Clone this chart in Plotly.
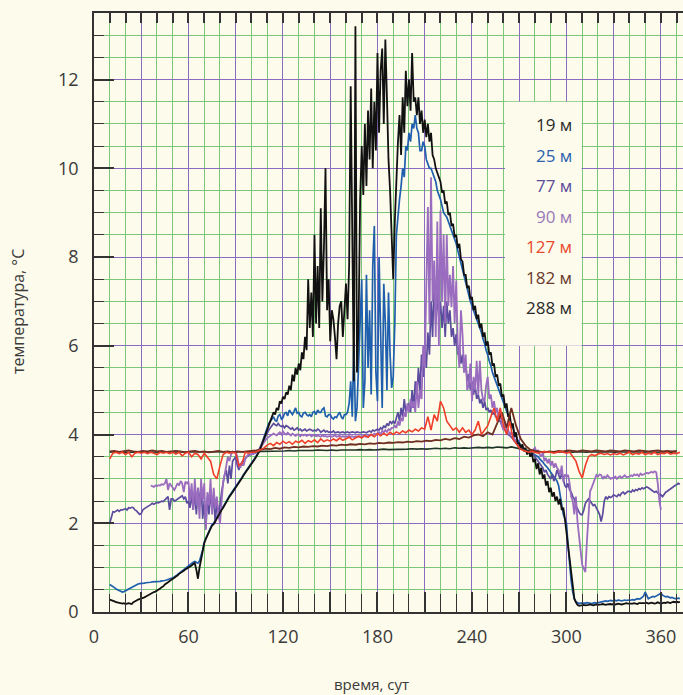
import plotly.graph_objects as go

# ---------------- data ----------------
START_MAIN = 10      # first day of the daily series (19, 25, 77 m)
START_90 = 36        # first day of the 90 m series
START_127 = 10       # 127 m sampled every 2 days
STEP_127 = 2
START_DEEP = 10      # 182 m and 288 m sampled every 3 days
STEP_DEEP = 3

T19 = [
    0.28, 0.27, 0.25, 0.24, 0.22, 0.21, 0.2, 0.2, 0.19, 0.2,
    0.18, 0.19, 0.2, 0.19, 0.18, 0.22, 0.25, 0.26, 0.28, 0.29,
    0.3, 0.31, 0.33, 0.35, 0.37, 0.4, 0.42, 0.43, 0.45, 0.46,
    0.48, 0.5, 0.53, 0.56, 0.58, 0.62, 0.64, 0.67, 0.7, 0.72,
    0.75, 0.77, 0.8, 0.82, 0.86, 0.88, 0.9, 0.93, 0.96, 0.98,
    1.0, 1.03, 1.05, 1.08, 1.1, 0.95, 0.75, 1.0, 1.2, 1.35,
    1.55, 1.65, 1.72, 1.8, 1.88, 1.95, 1.98, 2.05, 2.12, 2.18,
    2.25, 2.3, 2.35, 2.42, 2.48, 2.55, 2.6, 2.65, 2.7, 2.75,
    2.8, 2.86, 2.92, 2.97, 3.02, 3.08, 3.13, 3.17, 3.22, 3.28,
    3.33, 3.38, 3.44, 3.5, 3.55, 3.62, 3.72, 3.82, 3.9, 4.0,
    4.1, 4.2, 4.3, 4.4, 4.5, 4.45, 4.6, 4.55, 4.75, 4.7,
    4.85, 4.8, 4.95, 4.9, 5.1, 5.0, 5.35, 5.2, 5.5, 5.35,
    5.6, 5.45, 5.85, 5.7, 6.2, 5.9, 7.5, 6.4, 7.2, 6.2,
    8.5, 6.5, 7.8, 6.4, 9.1, 7.0, 8.2, 10.0, 6.8, 7.5,
    6.1, 6.8, 6.6, 6.2, 5.7, 6.5, 6.9, 7.0, 6.2, 6.8,
    7.4, 6.6, 7.8, 11.85, 8.7, 5.2, 13.2, 5.4, 6.5, 9.3,
    10.5, 9.4, 11.0, 9.6, 11.3, 10.2, 11.8, 10.0, 11.5, 10.4,
    12.6, 10.8, 12.2, 12.7, 11.0, 12.9, 11.6, 10.2, 9.5, 8.6,
    7.5, 8.8, 9.8, 10.6, 11.2, 10.3, 11.6, 10.8, 12.2, 11.4,
    12.0, 11.3, 12.6, 11.5, 11.6, 11.2, 11.6, 11.0, 11.3, 10.8,
    11.1, 10.7, 11.0, 10.6, 10.8, 10.3, 10.2, 10.0, 9.9, 9.8,
    9.7, 9.45, 9.5, 9.2, 9.25, 8.95, 9.0, 8.7, 8.75, 8.45,
    8.5, 8.2, 8.3, 7.95, 7.9, 7.6, 7.6, 7.3, 7.35, 7.05,
    7.1, 6.8, 6.9, 6.6, 6.7, 6.4, 6.5, 6.2, 6.3, 6.0,
    6.1, 5.8, 5.85, 5.55, 5.6, 5.3, 5.35, 5.1, 5.15, 4.85,
    4.9, 4.6, 4.7, 4.4, 4.45, 4.15, 4.25, 3.95, 4.05, 3.8,
    3.8, 3.7, 3.78, 3.62, 3.7, 3.55, 3.65, 3.5, 3.58, 3.38,
    3.45, 3.22, 3.35, 3.1, 3.25, 3.0, 3.1, 2.85, 2.95, 2.7,
    2.8, 2.6, 2.7, 2.5, 2.6, 2.42, 2.55, 2.3, 2.35, 2.1,
    1.8, 1.45, 1.1, 0.8, 0.5, 0.3, 0.22, 0.16, 0.14, 0.15,
    0.15, 0.16, 0.15, 0.15, 0.16, 0.17, 0.16, 0.15, 0.16, 0.17,
    0.16, 0.16, 0.17, 0.18, 0.17, 0.16, 0.17, 0.18, 0.18, 0.17,
    0.18, 0.17, 0.18, 0.19, 0.18, 0.17, 0.18, 0.19, 0.2, 0.19,
    0.19, 0.18, 0.19, 0.2, 0.19, 0.18, 0.2, 0.2, 0.19, 0.2,
    0.2, 0.21, 0.19, 0.2, 0.21, 0.2, 0.19, 0.2, 0.22, 0.2,
    0.19, 0.2, 0.21, 0.2, 0.22, 0.21, 0.2, 0.22, 0.23, 0.22,
    0.23, 0.22, 0.23,
]

T25 = [
    0.62, 0.6, 0.58, 0.55, 0.52, 0.5, 0.48, 0.46, 0.45, 0.46,
    0.48, 0.5, 0.52, 0.54, 0.56, 0.58, 0.6, 0.62, 0.63, 0.64,
    0.64, 0.65, 0.65, 0.66, 0.66, 0.67, 0.67, 0.68, 0.68, 0.68,
    0.69, 0.68, 0.69, 0.7, 0.7, 0.71, 0.72, 0.73, 0.74, 0.75,
    0.77, 0.79, 0.81, 0.84, 0.87, 0.9, 0.93, 0.96, 0.99, 1.02,
    1.05, 1.07, 1.1, 1.12, 1.14, 1.12, 1.1, 1.15, 1.25, 1.4,
    1.57, 1.67, 1.74, 1.82, 1.9, 1.97, 2.0, 2.07, 2.14, 2.2,
    2.27, 2.32, 2.37, 2.44, 2.5, 2.57, 2.62, 2.67, 2.72, 2.77,
    2.82, 2.88, 2.94, 2.99, 3.04, 3.1, 3.15, 3.19, 3.24, 3.3,
    3.35, 3.4, 3.46, 3.52, 3.57, 3.64, 3.74, 3.84, 3.95, 4.05,
    4.15, 4.25, 4.3, 4.35, 4.4, 4.32, 4.3, 4.42, 4.45, 4.35,
    4.38, 4.48, 4.5, 4.42, 4.55, 4.5, 4.45, 4.52, 4.6, 4.48,
    4.5, 4.42, 4.4, 4.48, 4.5, 4.45, 4.42, 4.45, 4.4, 4.5,
    4.52, 4.45, 4.55, 4.5, 4.5, 4.57, 4.6, 4.42, 4.4, 4.45,
    4.45, 4.38, 4.35, 4.4, 4.38, 4.45, 4.5, 4.4, 4.35, 4.45,
    4.45, 4.5, 4.7, 5.2, 4.4, 6.1, 4.3, 4.6, 5.5, 6.8,
    7.5, 4.6, 5.2, 7.6, 5.5, 6.8, 4.9, 7.8, 8.7, 5.4,
    4.75, 8.0, 6.2, 4.6, 7.4, 6.5, 5.0, 7.2, 5.8, 5.05,
    5.3, 6.5, 8.5, 9.0, 9.3, 9.6, 10.0, 9.8, 10.5, 10.4,
    10.8, 10.6, 11.0, 10.9, 11.2, 10.9, 10.8, 10.4, 10.4, 10.6,
    10.5, 10.2, 10.1, 10.0, 10.0, 9.9, 9.8, 9.7, 9.5, 9.4,
    9.3, 9.15, 9.0, 8.95, 8.9, 8.8, 8.7, 8.6, 8.5, 8.4,
    8.3, 8.15, 8.0, 7.85, 7.7, 7.55, 7.4, 7.25, 7.1, 7.0,
    6.9, 6.8, 6.7, 6.6, 6.5, 6.41, 6.3, 6.15, 6.05, 5.9,
    5.8, 5.65, 5.55, 5.4, 5.3, 5.2, 5.1, 5.0, 4.9, 4.8,
    4.7, 4.6, 4.5, 4.4, 4.3, 4.2, 4.1, 4.02, 3.95, 3.88,
    3.8, 3.75, 3.72, 3.68, 3.65, 3.62, 3.6, 3.6, 3.58, 3.56,
    3.55, 3.52, 3.5, 3.45, 3.42, 3.38, 3.33, 3.3, 3.25, 3.2,
    3.15, 3.1, 3.05, 3.0, 2.95, 2.85, 2.6, 2.4, 2.2, 2.1,
    2.0, 1.5, 1.0, 0.7, 0.45, 0.3, 0.23, 0.2, 0.19, 0.2,
    0.2, 0.19, 0.2, 0.21, 0.2, 0.2, 0.19, 0.2, 0.21, 0.2,
    0.21, 0.22, 0.22, 0.23, 0.24, 0.25, 0.24, 0.25, 0.26, 0.25,
    0.26, 0.26, 0.25, 0.27, 0.26, 0.25, 0.26, 0.27, 0.26, 0.27,
    0.26, 0.27, 0.28, 0.27, 0.28, 0.3, 0.29, 0.3, 0.33, 0.36,
    0.45, 0.38, 0.3, 0.32, 0.33, 0.35, 0.34, 0.36, 0.38, 0.4,
    0.42, 0.38, 0.36, 0.34, 0.35, 0.33, 0.32, 0.33, 0.31, 0.3,
    0.3, 0.31, 0.3,
]

T77 = [
    2.0, 2.15, 2.26, 2.25, 2.28, 2.3, 2.27, 2.3, 2.3, 2.32,
    2.33, 2.3, 2.35, 2.34, 2.36, 2.35, 2.3, 2.28, 2.25, 2.2,
    2.22, 2.3, 2.33, 2.35, 2.38, 2.4, 2.42, 2.45, 2.43, 2.45,
    2.47, 2.46, 2.48, 2.5, 2.49, 2.52, 2.55, 2.6, 2.3, 2.55,
    2.55, 2.5, 2.52, 2.55, 2.58, 2.6, 2.62, 2.55, 2.6, 2.45,
    2.5, 2.35, 2.65, 2.3, 2.7, 2.2, 2.8, 2.4, 2.9, 2.1,
    2.5, 1.9, 2.6, 2.2, 2.7, 2.3, 2.6, 2.0, 2.5, 2.2,
    2.4, 2.7, 2.9, 3.1, 3.2, 2.9, 3.3, 3.0, 3.4, 3.45,
    3.5, 3.3, 3.2, 3.35, 3.3, 3.4, 3.45, 3.5, 3.52, 3.55,
    3.55, 3.56, 3.58, 3.6, 3.62, 3.68, 3.75, 3.82, 3.9, 3.98,
    4.05, 4.1, 4.15, 4.2, 4.25, 4.22, 4.2, 4.25, 4.2, 4.18,
    4.2, 4.15, 4.2, 4.18, 4.15, 4.12, 4.15, 4.1, 4.12, 4.15,
    4.1, 4.12, 4.08, 4.1, 4.12, 4.08, 4.1, 4.12, 4.1, 4.08,
    4.1, 4.08, 4.12, 4.1, 4.05, 4.08, 4.1, 4.06, 4.08, 4.05,
    4.06, 4.05, 4.08, 4.04, 4.05, 4.06, 4.04, 4.05, 4.06, 4.04,
    4.05, 4.06, 4.04, 4.05, 4.06, 4.05, 4.04, 4.06, 4.05, 4.04,
    4.05, 4.06, 4.05, 4.04, 4.06, 4.08, 4.05, 4.1, 4.08, 4.1,
    4.12, 4.1, 4.15, 4.12, 4.2, 4.15, 4.25, 4.2, 4.3, 4.25,
    4.3, 4.25, 4.35, 4.5, 4.3, 4.6, 4.4, 4.8, 4.5, 4.6,
    4.7, 4.5, 5.0, 4.6, 5.2, 4.8, 5.5, 5.0, 5.8, 5.3,
    6.0, 5.5, 6.3, 5.8, 7.0, 6.2, 7.6, 6.5, 7.2, 6.6,
    7.0, 6.4, 6.9, 6.2, 7.0, 6.5, 6.8, 6.2, 6.4, 6.0,
    6.26, 5.8, 6.0, 5.6, 5.8, 5.4, 5.6, 5.2, 5.36, 5.0,
    5.2, 4.9, 5.1, 4.8, 4.9, 4.7, 4.8, 4.6, 4.75, 4.55,
    4.6, 4.5, 4.55, 4.45, 4.5, 4.4, 4.4, 4.3, 4.3, 4.2,
    4.15, 4.1, 4.05, 4.0, 3.98, 3.95, 3.9, 3.85, 3.8, 3.75,
    3.72, 3.7, 3.68, 3.66, 3.64, 3.62, 3.6, 3.6, 3.58, 3.56,
    3.5, 3.45, 3.4, 3.35, 3.3, 3.25, 3.15, 3.2, 3.1, 3.05,
    3.0, 3.1, 2.95, 3.05, 3.2, 3.1, 3.0, 3.12, 2.95, 2.85,
    2.8, 2.9, 2.75, 2.7, 2.6, 2.55, 2.4, 2.3, 2.25, 2.2,
    2.19, 2.3, 2.45, 2.5, 2.55, 2.5, 2.45, 2.4, 2.42, 2.35,
    2.3, 2.2, 2.04, 2.2, 2.5, 2.6, 2.55, 2.6, 2.58, 2.6,
    2.64, 2.62, 2.6, 2.65, 2.62, 2.68, 2.7, 2.66, 2.7, 2.72,
    2.72, 2.7, 2.75, 2.72, 2.76, 2.74, 2.78, 2.76, 2.8, 2.78,
    2.8, 2.82, 2.8, 2.78, 2.75, 2.72, 2.7, 2.72, 2.68, 2.65,
    2.64, 2.6, 2.65, 2.7, 2.72, 2.75, 2.78, 2.8, 2.82, 2.85,
    2.87, 2.9, 2.88,
]

T90 = [
    2.85, 2.83, 2.82, 2.85,
    2.84, 2.86, 2.85, 2.88, 2.87, 2.9, 3.0, 2.75, 2.9, 2.85,
    2.8, 2.75, 2.82, 2.9, 2.85, 2.95, 2.9, 2.7, 2.94, 2.9,
    2.94, 2.5, 2.9, 2.3, 3.0, 2.4, 2.8, 2.1, 3.0, 2.5,
    2.9, 1.85, 2.7, 2.4, 3.0, 2.2, 2.8, 2.34, 2.6, 2.2,
    2.0, 2.6, 2.94, 3.1, 3.3, 3.5, 3.4, 3.55, 3.62, 3.6,
    3.62, 3.5, 3.3, 3.25, 3.4, 3.3, 3.45, 3.5, 3.55, 3.55,
    3.55, 3.56, 3.58, 3.6, 3.62, 3.66, 3.72, 3.78, 3.84, 3.88,
    3.92, 3.95, 3.98, 4.0, 4.02, 4.0, 3.98, 4.02, 4.05, 4.0,
    4.07, 4.02, 4.0, 4.04, 4.0, 3.98, 4.02, 4.0, 3.97, 4.0,
    4.0, 3.96, 4.0, 3.98, 4.0, 3.97, 3.98, 4.0, 3.96, 3.98,
    3.98, 3.96, 3.98, 3.97, 3.95, 3.98, 3.96, 3.97, 3.95, 3.96,
    3.97, 3.95, 3.96, 3.98, 3.95, 3.96, 3.97, 3.95, 3.96, 3.95,
    3.96, 3.95, 3.97, 3.95, 3.96, 3.94, 3.96, 3.95, 3.96, 3.95,
    3.96, 3.97, 3.96, 3.95, 3.97, 3.98, 4.0, 3.98, 4.02, 4.0,
    4.02, 4.05, 4.0, 4.08, 4.05, 4.1, 4.06, 4.12, 4.1, 4.15,
    4.15, 4.2, 4.15, 4.3, 4.2, 4.38, 4.3, 4.5, 4.4, 4.7,
    4.5, 4.8, 4.6, 4.75, 4.5, 5.2, 4.6, 5.0, 4.8, 6.0,
    5.5, 7.5, 9.13, 6.5, 9.8, 7.0, 7.92, 6.2, 8.8, 6.0,
    9.05, 7.0, 8.5, 6.5, 8.5, 6.9, 7.6, 6.87, 7.8, 6.5,
    7.47, 6.0, 5.5, 6.8, 6.26, 5.4, 5.8, 5.0, 5.13, 5.6,
    4.75, 5.3, 5.0, 5.66, 4.9, 5.66, 5.0, 4.8, 4.75, 5.1,
    5.3, 4.8, 4.9, 4.6, 4.75, 4.5, 4.6, 4.3, 4.5, 4.2,
    4.1, 4.3, 4.07, 4.1, 4.0, 4.05, 4.0, 3.9, 3.85, 3.8,
    3.75, 3.72, 3.7, 3.68, 3.66, 3.64, 3.62, 3.6, 3.62, 3.65,
    3.7, 3.6, 3.65, 3.55, 3.5, 3.6, 3.4, 3.47, 3.35, 3.45,
    3.3, 3.4, 3.25, 3.35, 3.25, 3.2, 3.1, 3.3, 2.94, 3.1,
    3.05, 3.09, 2.9, 2.6, 2.5, 2.2, 2.6, 2.04, 1.7, 1.4,
    1.06, 0.98, 0.9, 1.6, 2.2, 2.72, 2.8, 2.9, 3.0, 3.09,
    3.05, 3.1, 3.09, 3.0, 3.05, 3.02, 3.08, 3.05, 3.0, 3.02,
    3.02, 3.05, 3.0, 3.04, 3.06, 3.02, 3.05, 3.08, 3.04, 3.05,
    3.05, 3.08, 3.06, 3.1, 3.08, 3.1, 3.06, 3.12, 3.09, 3.1,
    3.12, 3.14, 3.12, 3.15, 3.16, 3.14, 3.17, 3.15, 2.9, 2.5,
    2.3,
]

T127 = [
    3.45, 3.58, 3.6, 3.57, 3.6, 3.55, 3.6, 3.5, 3.58, 3.6,
    3.58, 3.6, 3.57, 3.6, 3.58, 3.55, 3.6, 3.58, 3.6, 3.57,
    3.6, 3.56, 3.6, 3.52, 3.58, 3.6, 3.5, 3.58, 3.55, 3.45,
    3.58, 3.5, 3.4, 3.1, 3.0, 3.3, 3.55, 3.6, 3.58, 3.6,
    3.58, 3.3, 3.35, 3.6, 3.58, 3.6, 3.6, 3.62, 3.66, 3.7,
    3.76, 3.8, 3.75, 3.82, 3.78, 3.85, 3.8, 3.84, 3.78, 3.85,
    3.82, 3.87, 3.8, 3.86, 3.83, 3.88, 3.82, 3.9, 3.84, 3.88,
    3.85, 3.9, 3.86, 3.92, 3.87, 3.9, 3.94, 3.88, 3.93, 3.96,
    3.92, 3.98, 3.94, 4.0, 3.95, 4.02, 3.97, 4.03, 3.98, 4.05,
    4.0, 4.06, 4.02, 4.08, 4.04, 4.1, 4.06, 4.12, 4.08, 4.15,
    4.12, 4.4, 4.1, 4.45, 4.3, 4.75, 4.6, 4.3, 4.2, 4.1,
    4.15, 4.05, 4.15, 4.05, 4.1, 4.0, 4.1, 4.3, 4.0, 4.1,
    4.2, 4.4, 4.6, 4.3, 4.6, 4.2, 4.0, 4.3, 3.9, 3.8,
    3.7, 3.65, 3.62, 3.6, 3.62, 3.6, 3.58, 3.6, 3.62, 3.6,
    3.6, 3.58, 3.6, 3.62, 3.6, 3.58, 3.6, 3.5, 3.4, 3.17,
    3.02, 3.3, 3.5, 3.55, 3.52, 3.56, 3.58, 3.55, 3.57, 3.54,
    3.57, 3.55, 3.58, 3.54, 3.57, 3.6, 3.55, 3.58, 3.56, 3.6,
    3.55, 3.58, 3.56, 3.6, 3.55, 3.58, 3.57, 3.6, 3.56, 3.58,
    3.57, 3.6,
]

T182 = [
    3.62, 3.63, 3.61, 3.62, 3.64, 3.62, 3.61, 3.63, 3.62, 3.64,
    3.62, 3.63, 3.61, 3.62, 3.63, 3.62, 3.6, 3.62, 3.63, 3.61,
    3.62, 3.6, 3.62, 3.63, 3.61, 3.62, 3.6, 3.62, 3.61, 3.62,
    3.62, 3.64, 3.66, 3.68, 3.67, 3.7, 3.68, 3.71, 3.7, 3.72,
    3.71, 3.73, 3.72, 3.74, 3.73, 3.75, 3.74, 3.76, 3.75, 3.77,
    3.76, 3.78, 3.77, 3.79, 3.78, 3.8, 3.79, 3.81, 3.8, 3.82,
    3.81, 3.83, 3.82, 3.84, 3.83, 3.85, 3.84, 3.86, 3.85, 3.88,
    3.87, 3.9, 3.88, 3.92, 3.9, 3.95, 3.93, 3.98, 4.0, 3.96,
    4.05, 4.0, 4.25, 4.5, 4.15, 4.6, 4.2, 3.9, 3.75, 3.66,
    3.63, 3.62, 3.6, 3.62, 3.61, 3.63, 3.62, 3.64, 3.63, 3.62,
    3.64, 3.63, 3.62, 3.64, 3.63, 3.62, 3.64, 3.63, 3.62, 3.64,
    3.63, 3.62, 3.64, 3.63, 3.62, 3.63, 3.64, 3.62, 3.63, 3.62,
    3.63,
]

T288 = [
    3.6, 3.61, 3.6, 3.6, 3.61, 3.6, 3.6, 3.61, 3.6, 3.6,
    3.61, 3.6, 3.6, 3.61, 3.6, 3.6, 3.61, 3.6, 3.6, 3.61,
    3.6, 3.6, 3.61, 3.6, 3.6, 3.61, 3.6, 3.6, 3.61, 3.6,
    3.6, 3.61, 3.62, 3.62, 3.63, 3.62, 3.63, 3.63, 3.64, 3.63,
    3.64, 3.64, 3.63, 3.64, 3.65, 3.64, 3.64, 3.65, 3.64, 3.65,
    3.65, 3.64, 3.65, 3.66, 3.65, 3.66, 3.65, 3.66, 3.67, 3.66,
    3.66, 3.67, 3.66, 3.67, 3.68, 3.67, 3.68, 3.67, 3.68, 3.69,
    3.68, 3.69, 3.68, 3.7, 3.69, 3.7, 3.69, 3.7, 3.71, 3.7,
    3.71, 3.7, 3.72, 3.71, 3.7, 3.72, 3.7, 3.68, 3.65, 3.62,
    3.61, 3.6, 3.6, 3.61, 3.6, 3.6, 3.61, 3.6, 3.6, 3.61,
    3.6, 3.6, 3.61, 3.6, 3.6, 3.61, 3.6, 3.6, 3.61, 3.6,
    3.6, 3.61, 3.6, 3.6, 3.61, 3.6, 3.6, 3.61, 3.6, 3.6,
    3.61,
]

X_TICKS = [0, 30, 60, 90, 120, 150, 180, 210, 240, 270, 300, 330, 360]
X_TICK_TEXT = ["0", "", "60", "", "120", "", "180", "", "240", "", "300", "", "360"]

LEGEND_LABELS = ["19 м", "25 м", "77 м", "90 м", "127 м", "182 м", "288 м"]
X_TITLE = "время, сут"
Y_TITLE = "температура, °C"

# ---------------- styles ----------------
BG = "#fdfbeb"
GREEN = "#7cc67a"
PURPLE = "#8a6cc0"
AXIS = "#333333"
LINE_COLORS = {
    "19 м": "#111111", "25 м": "#1f5fae", "77 м": "#5b4c9f", "90 м": "#9a6cbf",
    "127 м": "#ef3e2a", "182 м": "#6e2e22", "288 м": "#1f3528",
}
TEXT_COLORS = {
    "19 м": "#2a2a2a", "25 м": "#2b5fae", "77 м": "#5a4b9b", "90 м": "#9a78b8",
    "127 м": "#e8492e", "182 м": "#6a3a2e", "288 м": "#2a2a2a",
}


def days(start, step, n):
    return [start + i * step for i in range(n)]


series = [
    ("25 м", days(START_MAIN, 1, len(T25)), T25, 1.7),
    ("77 м", days(START_MAIN, 1, len(T77)), T77, 1.7),
    ("90 м", days(START_90, 1, len(T90)), T90, 1.8),
    ("19 м", days(START_MAIN, 1, len(T19)), T19, 1.8),
    ("288 м", days(START_DEEP, STEP_DEEP, len(T288)), T288, 1.6),
    ("182 м", days(START_DEEP, STEP_DEEP, len(T182)), T182, 1.8),
    ("127 м", days(START_127, STEP_127, len(T127)), T127, 1.6),
]

fig = go.Figure()
for name, xs, ys, w in series:
    fig.add_trace(go.Scatter(
        x=xs, y=ys, mode="lines", name=name, showlegend=False,
        line=dict(color=LINE_COLORS[name], width=w), hoverinfo="skip",
    ))

# dummy trace so the top tick axis is drawn
fig.add_trace(go.Scatter(x=[None], y=[None], xaxis="x2", showlegend=False, hoverinfo="skip"))

FONT = "Open Sans, Noto Sans, sans-serif"

fig.update_layout(
    width=683, height=695,
    margin=dict(l=94, r=0, t=13, b=83),
    paper_bgcolor=BG, plot_bgcolor=BG,
    font=dict(family=FONT, color="#3a3a3a", size=18),
    xaxis=dict(
        range=[0, 374], tickmode="array", tickvals=X_TICKS, ticktext=X_TICK_TEXT,
        ticks="inside", ticklen=20, tickwidth=1.5, tickcolor=AXIS,
        showgrid=True, gridcolor=PURPLE, gridwidth=1.3,
        showline=True, linecolor=AXIS, linewidth=1.6, mirror=True,
        zeroline=False, ticklabelstandoff=8,
        tickfont=dict(size=18, color="#3a3a3a"),
        minor=dict(dtick=10, tick0=0, ticks="inside", ticklen=18, tickwidth=1.3,
                   tickcolor=AXIS, showgrid=True, gridcolor=GREEN, gridwidth=1.3),
    ),
    xaxis2=dict(
        range=[0, 374], overlaying="x", side="top", tickmode="array",
        tickvals=list(range(0, 380, 10)), ticks="inside", ticklen=10, tickwidth=1.5,
        tickcolor=AXIS, showticklabels=False, showgrid=False, zeroline=False, showline=False,
    ),
    yaxis=dict(
        range=[0, 13.5], tick0=0, dtick=2,
        ticks="inside", ticklen=20, tickwidth=1.5, tickcolor=AXIS,
        showgrid=True, gridcolor=PURPLE, gridwidth=1.3,
        showline=True, linecolor=AXIS, linewidth=1.6,
        zeroline=False, ticklabelstandoff=10,
        tickfont=dict(size=18, color="#3a3a3a"),
        minor=dict(dtick=0.5, tick0=0, ticks="inside", ticklen=10, tickwidth=1.3,
                   tickcolor=AXIS, showgrid=True, gridcolor=GREEN, gridwidth=1.3),
    ),
)

# legend box (plain cream panel without grid)
fig.add_shape(type="rect", xref="x", yref="y", x0=261, x1=309.6, y0=6.0, y1=11.5,
              fillcolor=BG, line=dict(width=0), layer="above")

for i, lab in enumerate(LEGEND_LABELS):
    fig.add_annotation(
        x=304.5, y=10.98 - i * 0.687, xref="x", yref="y", text=lab, showarrow=False,
        xanchor="right", yanchor="middle",
        font=dict(family=FONT, size=17, color=TEXT_COLORS[lab]),
    )

fig.add_annotation(x=(371 - 94) / 589, y=(612 - 684) / 599, xref="paper", yref="paper",
                   text=X_TITLE, showarrow=False, xanchor="center", yanchor="middle",
                   font=dict(family=FONT, size=15, color="#3a3a3a"))
fig.add_annotation(x=(18 - 94) / 589, y=(612 - 312) / 599, xref="paper", yref="paper",
                   text=Y_TITLE, showarrow=False, textangle=-90, xanchor="center",
                   yanchor="middle", font=dict(family=FONT, size=16, color="#3a3a3a"))

fig.write_html("out.html", config={"displayModeBar": False},
               post_script="document.body.style.margin='0';"
               "document.body.style.overflow='hidden';")
